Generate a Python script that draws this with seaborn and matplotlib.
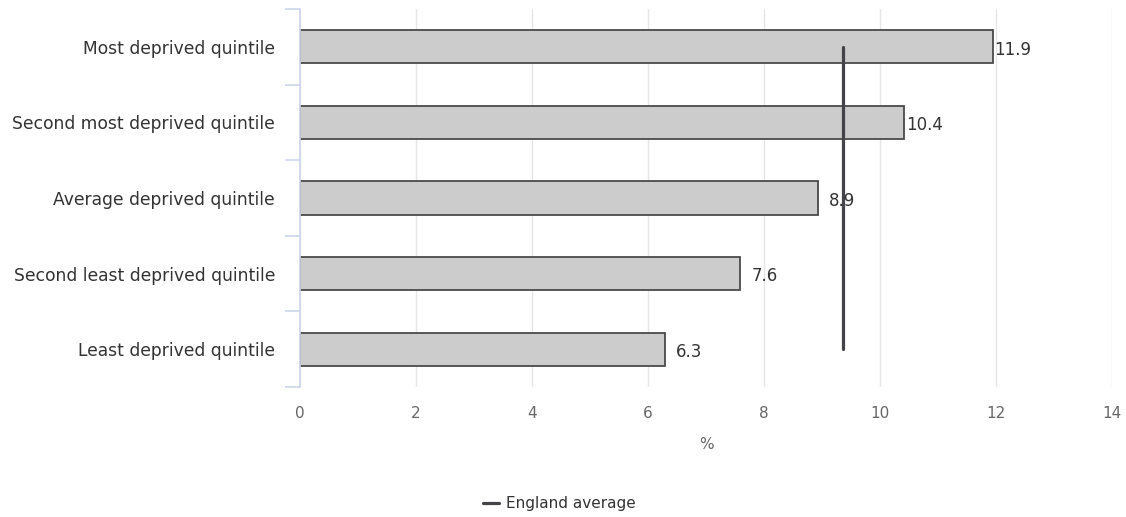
import matplotlib
matplotlib.use("Agg")
import matplotlib.pyplot as plt
from matplotlib.ticker import FixedLocator
import seaborn as sns
import pandas as pd
import numpy as np

# Data
quintiles = [
    "Most deprived quintile",
    "Second most deprived quintile",
    "Average deprived quintile",
    "Second least deprived quintile",
    "Least deprived quintile",
]
values = [11.95, 10.42, 8.93, 7.59, 6.29]
value_labels = ["11.9", "10.4", "8.9", "7.6", "6.3"]
england_avg = [9.37, 9.37, 9.37, 9.37, 9.37]
x_ticks = [0, 2, 4, 6, 8, 10, 12, 14]

sns.set_theme(style="white")
plt.rcParams['font.family'] = ['DejaVu Sans']

df = pd.DataFrame({"Quintile": quintiles, "Value": values})

fig = plt.figure(figsize=(11.26, 5.17), dpi=100)
ax = fig.add_axes([0.2664, 0.2515, 0.7212, 0.7311])

sns.barplot(data=df, x="Value", y="Quintile", orient="h", order=quintiles,
            color="#cccccc", edgecolor="#4a4a4a", linewidth=1.3,
            width=0.44, saturation=1, ax=ax, zorder=2)

# England average line (spans the category centres)
avg_line, = ax.plot(england_avg, np.arange(len(quintiles)), color="#444448",
                    linewidth=2.3, solid_capstyle="round", zorder=3,
                    label="England average")

# Value labels (labels near the average line sit a bit further out)
pads = [1, 1, 8, 8, 8]
for bar, txt, p in zip(ax.containers[0], value_labels, pads):
    ax.annotate(txt, xy=(bar.get_width(), bar.get_y() + bar.get_height() / 2),
                xytext=(p, -2), textcoords="offset points", va="center", ha="left",
                fontsize=12, color="#333333", zorder=4)

# Axes styling
ax.set_xlim(0, 14)
ax.set_ylim(len(quintiles) - 0.5, -0.5)
ax.xaxis.set_major_locator(FixedLocator(x_ticks))
ax.grid(axis="x", color="#e6e6e6", linewidth=1, zorder=0)
ax.grid(axis="y", visible=False)
for side in ["top", "right", "bottom"]:
    ax.spines[side].set_visible(False)
ax.spines["left"].set_color("#ccd6eb")
ax.spines["left"].set_linewidth(1.2)

ax.tick_params(axis="x", length=0, pad=14, labelsize=11, labelcolor="#666666")
ax.tick_params(axis="y", which="major", left=False, length=0, pad=18,
               labelsize=12.3, labelcolor="#333333")
ax.set_yticks(np.arange(-0.5, len(quintiles), 1.0), minor=True)
ax.tick_params(axis="y", which="minor", left=True, length=11, width=1.2,
               color="#ccd6eb", direction="out")

ax.set_xlabel("%", fontsize=11, color="#666666", labelpad=11)
ax.set_ylabel("")

fig.legend(handles=[avg_line], loc="lower center", bbox_to_anchor=(0.497, -0.015),
           frameon=False, fontsize=11, labelcolor="#333333",
           handlelength=1.0, handletextpad=0.5)

fig.savefig("out.png", dpi=100, facecolor="white")
